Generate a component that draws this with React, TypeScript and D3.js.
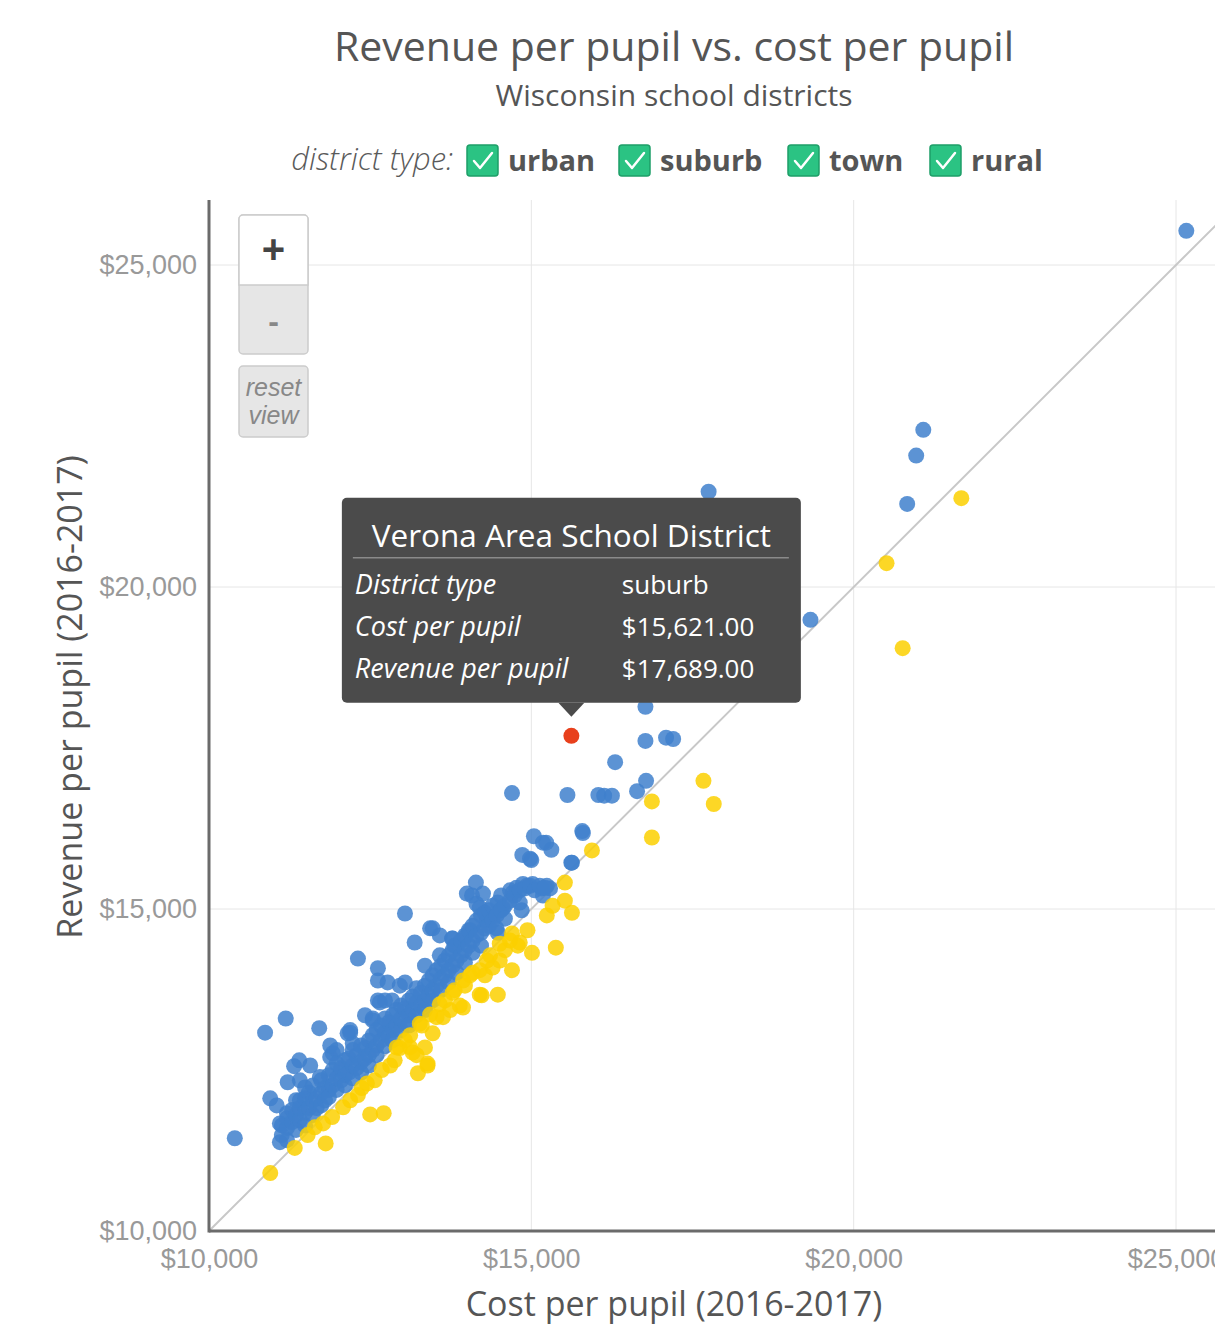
import { useRef, useEffect } from 'react';
import * as d3 from 'd3';

// legend entries (all checked)
const districtTypes: string[] = ['urban', 'suburb', 'town', 'rural'];

// tick values shared by both axes
const axisTicks: number[] = [10000, 15000, 20000, 25000];

// [cost per pupil, revenue per pupil] - sparse, higher-cost districts
const highCostDistricts: [number, number][] = [
  [25160, 25530], [21080, 22440], [20970, 22040], [20830, 21290], [17750, 21480],
  [19330, 19490], [16770, 18140], [16770, 17610], [17090, 17660], [17200, 17640],
  [16300, 17280], [15560, 16770], [16040, 16770], [16130, 16760], [16250, 16760],
  [16640, 16830], [16780, 16990], [14700, 16800], [15790, 16210], [15620, 15720],
  [15040, 16130], [15230, 16030], [15310, 15920], [14860, 15840], [15000, 15760],
  [15180, 16030], [14980, 15780], [15630, 15720], [15800, 16180],
  [21670, 21380], [20510, 20370], [20760, 19050], [17670, 16990], [17830, 16630],
  [16870, 16670], [16870, 16110], [15940, 15910],
];

// scattered districts around the main cluster
const fringeDistricts: [number, number][] = [
  [14140, 15410], [14000, 15240], [14250, 15240], [14200, 15020], [14360, 14870],
  [14510, 14980], [14710, 15250], [14870, 15390], [15020, 15390], [15240, 15360],
  [15290, 15320], [15160, 15320], [15180, 15210], [14850, 14980], [14560, 15010],
  [14480, 15100], [14770, 15330], [14930, 15360], [14080, 15210], [14310, 14820],
  [14480, 14630], [13470, 14700], [13770, 14540], [13970, 14560], [13040, 14930],
  [12310, 14230], [12620, 14080], [12620, 13890], [12770, 13860], [13040, 13860],
  [12620, 13580], [13430, 14700], [13190, 14480], [13580, 14590], [13780, 14540],
  [12190, 13080], [11920, 12760], [12540, 13300], [12840, 13580], [14150, 15080],
  [10870, 13080], [11190, 13300], [11710, 13150], [12150, 13070], [11400, 12650],
  [11320, 12560], [11220, 12310], [10950, 12060], [11050, 11950], [10400, 11440],
  [11100, 11380], [11100, 11670], [11210, 11830], [11410, 12030], [11490, 12230],
  [11720, 12390], [11880, 12700], [11980, 12810], [12230, 12910], [12540, 13270],
  [12650, 13550], [13350, 14120], [13580, 14280], [13810, 14430], [14050, 14670],
  [12960, 13810], [12730, 13580], [12420, 13350], [12190, 13120], [11880, 12880],
  [11570, 12570], [11410, 12340],
];

// dense core of districts, revenue above cost
const coreUpper: [number, number][] = [
  [11130, 11490], [11130, 11640], [11210, 11600], [11210, 11750], [11210, 11410],
  [11290, 11690], [11290, 11880], [11350, 11570], [11350, 11800], [11350, 12030],
  [11410, 11720], [11410, 11910], [11490, 11840], [11490, 12060], [11490, 11640],
  [11550, 11910], [11550, 12150], [11610, 11800], [11610, 12030], [11610, 12260],
  [11670, 12060], [11670, 11910], [11740, 12140], [11740, 12340], [11740, 11950],
  [11800, 12030], [11800, 12220], [11860, 12190], [11860, 12420], [11860, 12080],
  [11920, 12260], [11920, 12500], [11980, 12190], [11980, 12370], [11980, 12600],
  [12050, 12340], [12050, 12530], [12110, 12420], [12110, 12260], [12110, 12650],
  [12170, 12460], [12170, 12680], [12230, 12370], [12230, 12570], [12230, 12810],
  [12290, 12530], [12290, 12730], [12360, 12620], [12360, 12460], [12360, 12880],
  [12420, 12680], [12420, 12840], [12480, 12730], [12480, 12960], [12480, 12570],
  [12540, 12810], [12540, 13040], [12600, 12880], [12600, 12730], [12600, 13120],
  [12670, 12960], [12670, 13190], [12730, 12870], [12730, 13080], [12730, 13300],
  [12790, 13020], [12790, 13240], [12850, 13120], [12850, 12960], [12850, 13350],
  [12910, 13190], [12910, 13430], [12980, 13120], [12980, 13300], [12980, 13500],
  [13040, 13240], [13040, 13460], [13100, 13350], [13100, 13190], [13100, 13580],
  [13160, 13430], [13160, 13640], [13220, 13350], [13220, 13550], [13220, 13770],
  [13290, 13500], [13290, 13700], [13350, 13580], [13350, 13810], [13350, 13430],
  [13410, 13660], [13410, 13890], [13470, 13740], [13470, 13580], [13470, 13970],
  [13530, 13810], [13530, 14050], [13600, 13920], [13600, 13740], [13600, 14120],
  [13660, 13970], [13660, 14200], [13720, 14050], [13720, 13860], [13720, 14280],
  [13780, 14120], [13780, 14360], [13840, 14200], [13840, 14010], [13840, 14430],
  [13910, 14280], [13910, 14510], [13970, 14360], [13970, 14170], [13970, 14590],
  [14030, 14430], [14030, 14670], [14090, 14510], [14090, 14320], [14090, 14740],
  [14150, 14590], [14150, 14820], [14220, 14630], [14220, 14430], [14220, 14900],
  [14280, 14700], [14280, 14940], [14340, 14740], [14340, 14980], [14400, 14820],
  [14400, 15050], [14460, 14900], [14460, 14700], [14530, 14980], [14530, 15210],
  [14590, 15050], [14590, 14850], [14670, 15130], [14670, 15290], [14740, 15210],
  [14820, 15290], [14820, 15100], [14900, 15320], [14980, 15360], [15050, 15290],
  [15130, 15360], [15210, 15330],
];

// dense core of districts, revenue below cost
const coreLower: [number, number][] = [
  [10950, 10900], [11330, 11290], [11810, 11360], [11640, 11610], [11530, 11490],
  [11770, 11670], [11910, 11770], [12080, 11920], [12190, 12030], [12370, 12220],
  [12450, 12290], [12570, 12340], [12310, 12110], [12500, 11810], [12710, 11830],
  [12810, 12570], [12960, 12840], [13160, 12770], [13240, 12450], [13390, 12570],
  [13350, 12850], [13470, 13070], [13270, 13220], [13630, 13320], [13580, 13520],
  [13740, 13430], [13890, 13500], [13780, 13700], [13940, 13890], [14090, 14010],
  [14200, 13670], [14480, 13670], [14310, 14200], [14400, 14090], [14050, 13970],
  [14200, 14050], [14510, 14460], [14700, 14050], [14790, 14430], [15010, 14320],
  [14940, 14670], [15380, 14400], [15240, 14900], [15330, 15050], [15520, 15130],
  [15630, 14940], [15520, 15410], [14510, 14200], [14590, 14360], [14670, 14510],
  [12880, 12650], [13040, 12960], [13120, 13040], [13430, 13360], [13660, 13580],
  [13810, 13740], [13970, 13810], [14280, 13970], [14360, 14280], [12680, 12500],
  [13940, 13470], [14230, 13660], [14700, 14620], [14820, 14480], [13530, 13320],
  [13300, 13190], [12910, 12850], [13120, 12850], [13220, 12730], [13390, 12600],
];

// hovered district shown in the tooltip
const selectedName = 'Verona Area School District';
const selectedType = 'suburb';
const selectedCost = 15621;
const selectedRevenue = 17689;

export default function App() {
  const chartRef = useRef<SVGSVGElement | null>(null);

  useEffect(() => {
    if (!chartRef.current) return;

    const svgWidth = 1215;
    const svgHeight = 1327;
    const left = 209;
    const top = 200;
    const bottom = 1231;
    const sans = "'Open Sans', 'Noto Sans', sans-serif";
    const arial = "'Liberation Sans', Arial, sans-serif";

    const svg = d3.select(chartRef.current)
      .attr('width', svgWidth)
      .attr('height', svgHeight);
    svg.selectAll('*').remove();

    const xScale = d3.scaleLinear().domain([10000, 25000]).range([left, 1176]);
    const yScale = d3.scaleLinear().domain([10000, 25000]).range([bottom, 265]);
    const money = d3.format('$,');

    // titles
    svg.append('text')
      .attr('x', 674).attr('y', 61)
      .attr('text-anchor', 'middle')
      .attr('font-family', sans).attr('font-size', 41)
      .attr('fill', '#555')
      .text('Revenue per pupil vs. cost per pupil');
    svg.append('text')
      .attr('x', 674).attr('y', 106)
      .attr('text-anchor', 'middle')
      .attr('font-family', sans).attr('font-size', 30)
      .attr('fill', '#555')
      .text('Wisconsin school districts');

    // legend
    const legend = svg.append('g');
    legend.append('text')
      .attr('x', 453).attr('y', 170)
      .attr('text-anchor', 'end')
      .attr('font-family', sans).attr('font-style', 'italic').attr('font-weight', 300)
      .attr('font-size', 31).attr('fill', '#5a5a5a')
      .text('district type:');
    const boxX = [467, 619, 788, 930];
    districtTypes.forEach((t, i) => {
      const g = legend.append('g').attr('transform', `translate(${boxX[i]},145)`);
      g.append('rect')
        .attr('width', 31).attr('height', 31).attr('rx', 3)
        .attr('fill', '#2bc383').attr('stroke', '#1e9f68').attr('stroke-width', 1.5);
      g.append('path')
        .attr('d', 'M7,16 L13,23 L25,8')
        .attr('fill', 'none').attr('stroke', '#fff').attr('stroke-width', 2.5)
        .attr('stroke-linecap', 'round').attr('stroke-linejoin', 'round');
      g.append('text')
        .attr('x', 41).attr('y', 26)
        .attr('font-family', sans).attr('font-weight', 700).attr('font-size', 29)
        .attr('fill', '#555')
        .text(t);
    });

    // clip for plot area
    svg.append('defs').append('clipPath').attr('id', 'plot-clip')
      .append('rect')
      .attr('x', left).attr('y', top)
      .attr('width', svgWidth - left).attr('height', bottom - top);

    // gridlines
    const grid = svg.append('g');
    grid.selectAll('line.v')
      .data(axisTicks.slice(1))
      .enter().append('line')
      .attr('x1', (d) => xScale(d)).attr('x2', (d) => xScale(d))
      .attr('y1', top).attr('y2', bottom)
      .attr('stroke', '#e6e6e6').attr('stroke-width', 1);
    grid.selectAll('line.h')
      .data(axisTicks.slice(1))
      .enter().append('line')
      .attr('x1', left).attr('x2', svgWidth)
      .attr('y1', (d) => yScale(d)).attr('y2', (d) => yScale(d))
      .attr('stroke', '#e6e6e6').attr('stroke-width', 1);

    // axes labels
    const yAxis = svg.append('g')
      .attr('transform', `translate(${left},0)`)
      .call(d3.axisLeft(yScale).tickValues(axisTicks).tickFormat((d) => money(d as number)).tickSize(0).tickPadding(12));
    const xAxis = svg.append('g')
      .attr('transform', `translate(0,${bottom})`)
      .call(d3.axisBottom(xScale).tickValues(axisTicks).tickFormat((d) => money(d as number)).tickSize(0).tickPadding(18));
    [yAxis, xAxis].forEach((a) => {
      a.select('.domain').remove();
      a.selectAll('text')
        .attr('font-family', arial).attr('font-size', 27).attr('fill', '#999');
    });

    // y = x reference line
    svg.append('line')
      .attr('clip-path', 'url(#plot-clip)')
      .attr('x1', xScale(10000)).attr('y1', yScale(10000))
      .attr('x2', xScale(27000)).attr('y2', yScale(27000))
      .attr('stroke', '#c8c8c8').attr('stroke-width', 2);

    // axis lines
    svg.append('line')
      .attr('x1', left).attr('x2', left).attr('y1', top).attr('y2', bottom + 1.5)
      .attr('stroke', '#6b6b6b').attr('stroke-width', 3);
    svg.append('line')
      .attr('x1', left).attr('x2', svgWidth).attr('y1', bottom).attr('y2', bottom)
      .attr('stroke', '#6b6b6b').attr('stroke-width', 3);

    // axis titles
    svg.append('text')
      .attr('transform', 'translate(82,697) rotate(-90)')
      .attr('text-anchor', 'middle')
      .attr('font-family', sans).attr('font-size', 34).attr('fill', '#555')
      .text('Revenue per pupil (2016-2017)');
    svg.append('text')
      .attr('x', 674).attr('y', 1316)
      .attr('text-anchor', 'middle')
      .attr('font-family', sans).attr('font-size', 34).attr('fill', '#555')
      .text('Cost per pupil (2016-2017)');

    // points: revenue above cost in blue, below in yellow (drawn on top)
    const all = [...highCostDistricts, ...fringeDistricts, ...coreUpper, ...coreLower];
    const above = all.filter((d) => d[1] >= d[0]);
    const below = all.filter((d) => d[1] < d[0]);
    const pts = svg.append('g').attr('clip-path', 'url(#plot-clip)');
    pts.selectAll('circle.above')
      .data(above)
      .enter().append('circle')
      .attr('cx', (d) => xScale(d[0]))
      .attr('cy', (d) => yScale(d[1]))
      .attr('r', 8)
      .attr('fill', '#3f80cc').attr('fill-opacity', 0.85);
    pts.selectAll('circle.below')
      .data(below)
      .enter().append('circle')
      .attr('cx', (d) => xScale(d[0]))
      .attr('cy', (d) => yScale(d[1]))
      .attr('r', 8)
      .attr('fill', '#fbd000').attr('fill-opacity', 0.85);

    // highlighted district
    const hx = xScale(selectedCost);
    const hy = yScale(selectedRevenue);
    svg.append('circle')
      .attr('cx', hx).attr('cy', hy).attr('r', 8)
      .attr('fill', '#e8401c');

    // zoom controls
    const zoom = svg.append('g').attr('transform', 'translate(239,215)');
    zoom.append('rect')
      .attr('x', 0).attr('y', 0).attr('width', 69).attr('height', 139).attr('rx', 4)
      .attr('fill', '#e6e6e6').attr('stroke', '#ccc').attr('stroke-width', 1.5);
    zoom.append('path')
      .attr('d', 'M0,70 V4 A4,4 0 0 1 4,0 H65 A4,4 0 0 1 69,4 V70 Z')
      .attr('fill', '#fff').attr('stroke', '#ccc').attr('stroke-width', 1.5);
    zoom.append('text')
      .attr('x', 34.5).attr('y', 48).attr('text-anchor', 'middle')
      .attr('font-family', arial).attr('font-weight', 700).attr('font-size', 40).attr('fill', '#444')
      .text('+');
    zoom.append('text')
      .attr('x', 34.5).attr('y', 117).attr('text-anchor', 'middle')
      .attr('font-family', arial).attr('font-weight', 700).attr('font-size', 32).attr('fill', '#888')
      .text('-');
    const reset = svg.append('g').attr('transform', 'translate(239,366)');
    reset.append('rect')
      .attr('width', 69).attr('height', 71).attr('rx', 4)
      .attr('fill', '#e6e6e6').attr('stroke', '#ccc').attr('stroke-width', 1.5);
    ['reset', 'view'].forEach((w, i) => {
      reset.append('text')
        .attr('x', 34.5).attr('y', 30 + i * 28).attr('text-anchor', 'middle')
        .attr('font-family', arial).attr('font-style', 'italic').attr('font-size', 25)
        .attr('fill', '#888')
        .text(w);
    });

    // tooltip
    const tipW = 459;
    const tipH = 205;
    const tx = hx - tipW / 2;
    const ty = hy - 33 - tipH;
    const tip = svg.append('g').attr('transform', `translate(${tx},${ty})`);
    tip.append('rect')
      .attr('width', tipW).attr('height', tipH).attr('rx', 5)
      .attr('fill', '#4b4b4b');
    tip.append('path')
      .attr('d', `M${tipW / 2 - 13},${tipH} L${tipW / 2},${tipH + 14} L${tipW / 2 + 13},${tipH} Z`)
      .attr('fill', '#4b4b4b');
    tip.append('text')
      .attr('x', tipW / 2).attr('y', 49).attr('text-anchor', 'middle')
      .attr('font-family', sans).attr('font-size', 31.5).attr('fill', '#fff')
      .text(selectedName);
    tip.append('line')
      .attr('x1', 11).attr('x2', tipW - 12).attr('y1', 60).attr('y2', 60)
      .attr('stroke', '#8a8a8a').attr('stroke-width', 1.5);
    const rows: [string, string][] = [
      ['District type', selectedType],
      ['Cost per pupil', d3.format('$,.2f')(selectedCost)],
      ['Revenue per pupil', d3.format('$,.2f')(selectedRevenue)],
    ];
    rows.forEach((r, i) => {
      tip.append('text')
        .attr('x', 13).attr('y', 96 + i * 42)
        .attr('font-family', sans).attr('font-style', 'italic').attr('font-size', 27)
        .attr('fill', '#fff')
        .text(r[0]);
      tip.append('text')
        .attr('x', 280).attr('y', 96 + i * 42)
        .attr('font-family', sans).attr('font-size', 26)
        .attr('fill', '#fff')
        .text(r[1]);
    });
  }, []);

  return (
    <div style={{ position: 'fixed', left: 0, top: 0, width: 1215, height: 1327, overflow: 'hidden', background: '#fff' }}>
      <svg ref={chartRef} style={{ display: 'block' }}></svg>
    </div>
  );
}
